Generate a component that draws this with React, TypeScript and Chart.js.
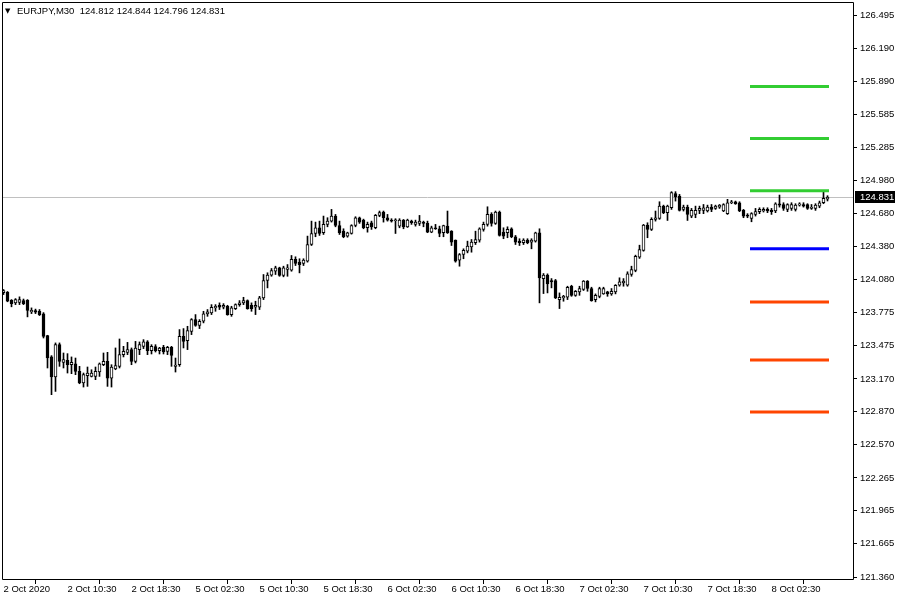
import React, { useEffect, useRef } from "react";
import { Chart, registerables } from "chart.js";

Chart.register(...registerables);

const symbolTitle = "EURJPY,M30";

const opens = [
  123.959, 123.962, 123.889, 123.865, 123.870, 123.886, 123.889, 123.783, 123.794, 123.788,
  123.764, 123.566, 123.371, 123.188, 123.483, 123.321, 123.340, 123.300, 123.309, 123.239,
  123.133, 123.199, 123.193, 123.193, 123.234, 123.300, 123.330, 123.178, 123.261, 123.285,
  123.392, 123.413, 123.438, 123.330, 123.438, 123.468, 123.508, 123.428, 123.465, 123.428,
  123.459, 123.422, 123.459, 123.285, 123.300, 123.559, 123.520, 123.605, 123.712, 123.660,
  123.697, 123.764, 123.773, 123.819, 123.843, 123.825, 123.834, 123.758, 123.813, 123.849,
  123.865, 123.886, 123.843, 123.825, 123.825, 123.911, 124.069, 124.118, 124.154, 124.185,
  124.115, 124.170, 124.163, 124.262, 124.237, 124.225, 124.246, 124.398, 124.499, 124.551,
  124.506, 124.582, 124.612, 124.658, 124.572, 124.520, 124.475, 124.499, 124.572, 124.643,
  124.621, 124.551, 124.597, 124.551, 124.664, 124.694, 124.643, 124.621, 124.615, 124.566,
  124.621, 124.560, 124.612, 124.582, 124.591, 124.603, 124.591, 124.511, 124.551, 124.542,
  124.506, 124.566, 124.520, 124.438, 124.255, 124.307, 124.337, 124.377, 124.414, 124.438,
  124.536, 124.582, 124.673, 124.591, 124.694, 124.511, 124.506, 124.542, 124.469, 124.429,
  124.414, 124.438, 124.420, 124.429, 124.506, 124.087, 124.118, 124.069, 124.069, 123.895,
  123.911, 123.916, 124.017, 123.934, 123.966, 123.987, 124.063, 123.996, 123.895, 123.925,
  123.947, 123.966, 123.947, 123.966, 124.026, 124.048, 124.026, 124.124, 124.161, 124.283,
  124.344, 124.575, 124.536, 124.628, 124.637, 124.749, 124.689, 124.734, 124.863, 124.841,
  124.719, 124.740, 124.658, 124.673, 124.710, 124.710, 124.704, 124.740, 124.728, 124.740,
  124.704, 124.680, 124.780, 124.789, 124.780, 124.710, 124.667, 124.637, 124.673, 124.698,
  124.704, 124.719, 124.710, 124.704, 124.771, 124.764, 124.719, 124.728, 124.719, 124.758,
  124.764, 124.764, 124.728, 124.728, 124.749, 124.780, 124.812,
];

const highs = [
  123.987, 123.969, 123.895, 123.904, 123.920, 123.900, 123.895, 123.819, 123.808, 123.804,
  123.776, 123.569, 123.383, 123.499, 123.499, 123.407, 123.401, 123.371, 123.361, 123.285,
  123.224, 123.279, 123.254, 123.279, 123.316, 123.407, 123.413, 123.300, 123.453, 123.535,
  123.468, 123.504, 123.453, 123.513, 123.508, 123.529, 123.520, 123.483, 123.483, 123.459,
  123.477, 123.468, 123.468, 123.361, 123.621, 123.630, 123.651, 123.721, 123.758, 123.712,
  123.788, 123.804, 123.849, 123.849, 123.865, 123.858, 123.843, 123.834, 123.856, 123.886,
  123.916, 123.892, 123.865, 123.880, 123.925, 124.124, 124.140, 124.179, 124.200, 124.191,
  124.200, 124.215, 124.298, 124.286, 124.268, 124.268, 124.475, 124.612, 124.603, 124.612,
  124.658, 124.643, 124.719, 124.673, 124.612, 124.542, 124.511, 124.579, 124.652, 124.649,
  124.630, 124.603, 124.612, 124.673, 124.704, 124.704, 124.673, 124.634, 124.634, 124.634,
  124.627, 124.630, 124.621, 124.621, 124.664, 124.612, 124.612, 124.566, 124.582, 124.566,
  124.575, 124.704, 124.525, 124.440, 124.316, 124.359, 124.429, 124.444, 124.520, 124.551,
  124.603, 124.743, 124.689, 124.704, 124.704, 124.551, 124.560, 124.551, 124.481, 124.451,
  124.451, 124.451, 124.451, 124.511, 124.542, 124.133, 124.130, 124.087, 124.079, 123.956,
  123.934, 124.017, 124.026, 123.978, 124.017, 124.069, 124.069, 124.008, 123.947, 124.008,
  124.008, 123.971, 123.996, 124.032, 124.094, 124.087, 124.149, 124.200, 124.301, 124.392,
  124.582, 124.597, 124.643, 124.704, 124.789, 124.758, 124.758, 124.881, 124.881, 124.856,
  124.758, 124.758, 124.728, 124.749, 124.749, 124.764, 124.758, 124.764, 124.758, 124.764,
  124.771, 124.811, 124.801, 124.795, 124.789, 124.719, 124.680, 124.689, 124.728, 124.734,
  124.734, 124.734, 124.728, 124.780, 124.850, 124.780, 124.771, 124.780, 124.771, 124.780,
  124.780, 124.771, 124.764, 124.771, 124.795, 124.887, 124.844,
];

const lows = [
  123.941, 123.875, 123.829, 123.849, 123.849, 123.849, 123.737, 123.767, 123.767, 123.749,
  123.544, 123.270, 123.026, 123.056, 123.285, 123.270, 123.224, 123.218, 123.209, 123.126,
  123.096, 123.102, 123.188, 123.163, 123.193, 123.291, 123.102, 123.096, 123.254, 123.270,
  123.371, 123.392, 123.300, 123.316, 123.392, 123.447, 123.392, 123.398, 123.416, 123.398,
  123.398, 123.392, 123.285, 123.233, 123.285, 123.453, 123.438, 123.575, 123.651, 123.630,
  123.682, 123.742, 123.758, 123.788, 123.804, 123.810, 123.752, 123.742, 123.804, 123.834,
  123.849, 123.807, 123.788, 123.758, 123.804, 123.895, 124.002, 124.108, 124.124, 124.108,
  124.103, 124.108, 124.154, 124.206, 124.139, 124.206, 124.237, 124.389, 124.469, 124.481,
  124.490, 124.560, 124.603, 124.560, 124.490, 124.460, 124.465, 124.493, 124.560, 124.591,
  124.542, 124.511, 124.536, 124.542, 124.652, 124.603, 124.612, 124.603, 124.499, 124.551,
  124.542, 124.554, 124.582, 124.566, 124.572, 124.560, 124.506, 124.506, 124.536, 124.469,
  124.469, 124.499, 124.389, 124.237, 124.200, 124.268, 124.322, 124.328, 124.398, 124.420,
  124.520, 124.566, 124.566, 124.582, 124.475, 124.451, 124.460, 124.460, 124.398, 124.389,
  124.398, 124.405, 124.359, 124.420, 123.865, 123.950, 123.956, 124.002, 123.904, 123.813,
  123.880, 123.895, 123.925, 123.925, 123.934, 123.978, 123.971, 123.880, 123.874, 123.911,
  123.943, 123.925, 123.934, 123.947, 124.017, 124.017, 124.017, 124.108, 124.149, 124.271,
  124.337, 124.460, 124.526, 124.612, 124.628, 124.680, 124.618, 124.719, 124.795, 124.704,
  124.704, 124.618, 124.643, 124.643, 124.680, 124.680, 124.695, 124.698, 124.719, 124.728,
  124.698, 124.673, 124.771, 124.765, 124.698, 124.643, 124.643, 124.606, 124.658, 124.680,
  124.695, 124.689, 124.673, 124.689, 124.740, 124.710, 124.698, 124.710, 124.704, 124.749,
  124.740, 124.719, 124.719, 124.710, 124.734, 124.771, 124.796,
];

const closes = [
  123.978, 123.880, 123.858, 123.895, 123.895, 123.858, 123.797, 123.797, 123.779, 123.758,
  123.559, 123.361, 123.188, 123.483, 123.330, 123.346, 123.300, 123.321, 123.239, 123.133,
  123.209, 123.224, 123.224, 123.239, 123.309, 123.330, 123.178, 123.279, 123.291, 123.392,
  123.422, 123.438, 123.330, 123.453, 123.483, 123.508, 123.428, 123.468, 123.428, 123.453,
  123.416, 123.459, 123.385, 123.296, 123.559, 123.513, 123.611, 123.712, 123.660, 123.697,
  123.764, 123.783, 123.825, 123.834, 123.825, 123.843, 123.758, 123.819, 123.849, 123.865,
  123.886, 123.813, 123.813, 123.843, 123.911, 124.069, 124.118, 124.161, 124.185, 124.115,
  124.185, 124.185, 124.262, 124.225, 124.215, 124.255, 124.398, 124.499, 124.551, 124.499,
  124.582, 124.612, 124.658, 124.572, 124.506, 124.469, 124.506, 124.572, 124.643, 124.603,
  124.551, 124.582, 124.560, 124.664, 124.689, 124.643, 124.621, 124.612, 124.621, 124.621,
  124.560, 124.621, 124.597, 124.603, 124.612, 124.591, 124.511, 124.551, 124.542, 124.499,
  124.572, 124.506, 124.420, 124.246, 124.307, 124.346, 124.383, 124.420, 124.444, 124.542,
  124.582, 124.673, 124.591, 124.694, 124.481, 124.475, 124.536, 124.469, 124.420, 124.414,
  124.438, 124.414, 124.438, 124.506, 124.094, 124.118, 124.039, 124.057, 123.911, 123.916,
  123.925, 124.008, 123.934, 123.971, 123.996, 124.063, 123.996, 123.886, 123.934, 123.996,
  123.996, 123.947, 123.971, 124.026, 124.057, 124.063, 124.130, 124.170, 124.291, 124.353,
  124.575, 124.536, 124.628, 124.643, 124.749, 124.689, 124.749, 124.872, 124.832, 124.710,
  124.740, 124.673, 124.710, 124.710, 124.728, 124.734, 124.740, 124.719, 124.749, 124.758,
  124.764, 124.780, 124.789, 124.771, 124.704, 124.658, 124.658, 124.680, 124.698, 124.719,
  124.719, 124.704, 124.698, 124.771, 124.758, 124.728, 124.764, 124.764, 124.758, 124.771,
  124.749, 124.728, 124.740, 124.758, 124.780, 124.820, 124.831,
];

// Pivot-style levels, drawn over the last bars
const levelValues = [125.842, 125.366, 124.890, 124.359, 123.874, 123.343, 122.867];
const levelColors = ["#32cd32", "#32cd32", "#32cd32", "#0000ff", "#ff4500", "#ff4500", "#ff4500"];
const levelFromBar = 187;
const levelToBar = 206;

const yTickValues = [
  126.495, 126.19, 125.89, 125.585, 125.285, 124.98, 124.68, 124.38, 124.08,
  123.775, 123.475, 123.17, 122.87, 122.57, 122.265, 121.965, 121.665, 121.36,
];

const xTickBars = [0, 16, 32, 48, 64, 80, 96, 112, 128, 144, 160, 176, 192];
const xTickLabels = [
  "2 Oct 2020", "2 Oct 10:30", "2 Oct 18:30", "5 Oct 02:30", "5 Oct 10:30",
  "5 Oct 18:30", "6 Oct 02:30", "6 Oct 10:30", "6 Oct 18:30", "7 Oct 02:30",
  "7 Oct 10:30", "7 Oct 18:30", "8 Oct 02:30",
];

const FONT = "'Liberation Sans', Arial, sans-serif";

export default function App() {
  const ref = useRef<HTMLCanvasElement | null>(null);

  useEffect(() => {
    if (!ref.current) return;
    const n = closes.length;
    const idx = closes.map((_, i) => i);
    const last = n - 1;
    const currentPrice = closes[last];

    const bodies = idx.map((i) => ({
      x: i,
      y: [Math.min(opens[i], closes[i]), Math.max(opens[i], closes[i])],
    }));
    const wicks = idx.map((i) => ({ x: i, y: [lows[i], highs[i]] }));
    const bodyColors = idx.map((i) => (closes[i] >= opens[i] ? "#ffffff" : "#000000"));

    const levelSets = levelValues.map((v, k) => ({
      type: "line" as const,
      data: [
        { x: levelFromBar, y: v },
        { x: levelToBar, y: v },
      ],
      borderColor: levelColors[k],
      borderWidth: 3,
      pointRadius: 0,
      borderCapStyle: "square" as const,
      order: 0,
    }));

    const decor = {
      id: "decor",
      beforeDatasetsDraw(chart: any) {
        const { ctx, chartArea } = chart;
        const ys = chart.scales.y;
        const py = Math.round(ys.getPixelForValue(currentPrice)) + 0.5;
        ctx.save();
        ctx.strokeStyle = "#c0c0c0";
        ctx.lineWidth = 1;
        ctx.beginPath();
        ctx.moveTo(chartArea.left, py);
        ctx.lineTo(chartArea.right, py);
        ctx.stroke();
        ctx.restore();
      },
      afterDraw(chart: any) {
        const { ctx, chartArea } = chart;
        const ys = chart.scales.y;
        ctx.save();
        // frame
        ctx.strokeStyle = "#000";
        ctx.lineWidth = 1;
        ctx.beginPath();
        ctx.rect(chartArea.left + 0.5, chartArea.top + 0.5, chartArea.right - chartArea.left, chartArea.bottom - chartArea.top);
        ctx.stroke();
        // price box
        const py = Math.round(ys.getPixelForValue(currentPrice));
        ctx.fillStyle = "#000";
        ctx.fillRect(chartArea.right + 2, py - 6, 40, 12);
        ctx.fillStyle = "#fff";
        ctx.font = `9.5px ${FONT}`;
        ctx.textBaseline = "middle";
        ctx.textAlign = "left";
        ctx.fillText(currentPrice.toFixed(3), chartArea.right + 7, py + 0.5);
        // title
        ctx.fillStyle = "#000";
        ctx.font = `7px 'DejaVu Sans', sans-serif`;
        ctx.fillText("▼", chartArea.left + 3, 11);
        ctx.font = `9.5px ${FONT}`;
        const ohlc = [opens[last], highs[last], lows[last], closes[last]].map((v) => v.toFixed(3)).join(" ");
        ctx.fillText(`${symbolTitle}  ${ohlc}`, chartArea.left + 15, 11);
        ctx.restore();
      },
    };

    const chart = new Chart(ref.current, {
      type: "bar",
      data: {
        datasets: [
          ...levelSets,
          {
            type: "bar" as const,
            data: bodies as any,
            backgroundColor: bodyColors,
            borderColor: "#000",
            borderWidth: 1,
            borderSkipped: false,
            barThickness: 3,
            grouped: false,
            minBarLength: 1,
            order: 1,
          },
          {
            type: "bar" as const,
            data: wicks as any,
            backgroundColor: "#000",
            borderWidth: 0,
            barThickness: 1,
            grouped: false,
            order: 2,
          },
        ] as any,
      },
      options: {
        responsive: false,
        animation: false,
        devicePixelRatio: 1,
        layout: { padding: { left: 2, top: 2, right: 0, bottom: 0 } },
        plugins: { legend: { display: false }, tooltip: { enabled: false } },
        scales: {
          x: {
            type: "linear",
            offset: false,
            min: -0.375,
            max: 212.375,
            border: { display: false },
            grid: { display: true, drawOnChartArea: false, drawTicks: true, tickLength: 5, color: "#000" },
            afterBuildTicks: (scale: any) => {
              scale.ticks = xTickBars.map((v) => ({ value: v }));
            },
            afterFit: (scale: any) => {
              scale.height = 21;
              scale.paddingLeft = 0;
              scale.paddingRight = 0;
            },
            ticks: {
              autoSkip: false,
              maxRotation: 0,
              align: "start",
              padding: 0,
              color: "#000",
              font: { family: FONT, size: 9.5 },
              callback: (v: any) => {
                const k = xTickBars.indexOf(Number(v));
                return k >= 0 ? xTickLabels[k] : "";
              },
            },
          },
          y: {
            type: "linear",
            position: "right",
            min: 121.342,
            max: 126.614,
            border: { display: false },
            grid: { display: true, drawOnChartArea: false, drawTicks: true, tickLength: 4, color: "#000" },
            afterBuildTicks: (scale: any) => {
              scale.ticks = yTickValues.map((v) => ({ value: v }));
            },
            afterFit: (scale: any) => {
              scale.width = 47;
              scale.paddingTop = 0;
              scale.paddingBottom = 0;
            },
            ticks: {
              autoSkip: false,
              padding: 3,
              color: "#000",
              font: { family: FONT, size: 9.5 },
              callback: (v: any) => Number(v).toFixed(3),
            },
          },
        },
      },
      plugins: [decor],
    });
    return () => chart.destroy();
  }, []);

  return (
    <div style={{ position: "fixed", left: 0, top: 0, width: 900, height: 600, background: "#fff" }}>
      <canvas ref={ref} width={900} height={600} style={{ width: 900, height: 600, display: "block" }} />
    </div>
  );
}
